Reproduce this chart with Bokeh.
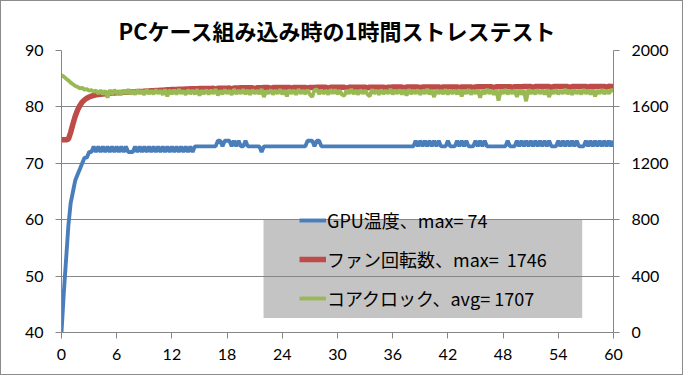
from bokeh.plotting import figure
from bokeh.models import Range1d, LinearAxis, Legend, LegendItem, BoxAnnotation, FixedTicker
from bokeh.embed import file_html
from bokeh.resources import INLINE

# ---------------- data ----------------
title_text = "PCケース組み込み時の1時間ストレステスト"
x_ticks = [0, 6, 12, 18, 24, 30, 36, 42, 48, 54, 60]
temp_ticks = [40, 50, 60, 70, 80, 90]
rpm_ticks = [0, 400, 800, 1200, 1600, 2000]
series_names = ["GPU温度、max= 74", "ファン回転数、max=  1746", "コアクロック、avg= 1707"]

# sampling every 0.25 minute
minutes = [i * 0.25 for i in range(241)]

gpu_temp = (
    [40, 47, 53, 59, 63, 65, 67, 68, 69, 70, 71, 71, 72, 72]
    + [73, 72, 73, 72, 73, 72, 73, 72, 73, 72, 73, 72, 73, 72, 73, 72,
       72, 72, 73, 72, 73, 72, 73, 72, 73, 72, 73, 72, 73, 72, 73, 72,
       73, 72, 73, 72, 73, 72, 73, 72, 73, 72, 73, 72]
    + [73, 73, 73, 73, 73, 73, 73, 73, 73, 73]
    + [74, 74, 73, 74, 74, 74, 73, 74, 73, 74, 73, 73, 74]
    + [73, 73, 73, 73, 73, 73, 72]
    + [73] * 19
    + [74, 74, 74, 73, 74, 74]
    + [73] * 41
    + [74, 73, 74, 73, 74, 73, 74, 73, 74, 73, 74, 73, 73, 73, 74, 73,
       73, 73, 74, 73, 74, 73, 74, 73, 73, 73, 74, 73, 74, 73, 74, 73,
       73, 73, 73, 73, 73, 73, 73, 73, 74, 73, 73, 73, 74, 73, 74, 73,
       74, 73, 74, 73, 74, 73, 74, 73, 74, 73, 74, 73, 73, 73, 74, 73,
       74, 73, 74, 73, 74, 73, 74, 73, 73, 73, 74, 73, 74, 73, 74, 73,
       74, 73, 74, 73, 74, 73, 74]
)

fan_rpm = [
    1367, 1367, 1367, 1372, 1420, 1480, 1535, 1578, 1610, 1634, 1650, 1662, 1670, 1676, 1681, 1685,
    1688, 1690, 1692, 1694, 1695, 1697, 1698, 1699, 1700, 1701, 1702, 1703, 1704, 1705, 1706, 1707,
    1708, 1709, 1710, 1710, 1711, 1712, 1713, 1714, 1715, 1716, 1717, 1718, 1719, 1720, 1721, 1722,
    1723, 1724, 1724, 1725, 1726, 1726, 1727, 1727, 1728, 1728, 1729, 1729, 1730, 1730, 1730, 1731,
    1731, 1731, 1732, 1726, 1732, 1732, 1733, 1733, 1733, 1734, 1728, 1734, 1734, 1734, 1735, 1735,
    1735, 1735, 1736, 1736, 1730, 1736, 1736, 1736, 1737, 1737, 1737, 1731, 1737, 1737, 1737, 1737,
    1737, 1738, 1738, 1738, 1732, 1738, 1738, 1738, 1738, 1738, 1738, 1733, 1738, 1738, 1738, 1739,
    1739, 1739, 1739, 1739, 1733, 1739, 1739, 1739, 1739, 1739, 1739, 1739, 1734, 1739, 1739, 1740,
    1740, 1740, 1740, 1740, 1740, 1734, 1740, 1740, 1740, 1740, 1740, 1740, 1740, 1735, 1740, 1740,
    1741, 1741, 1741, 1741, 1741, 1735, 1741, 1741, 1741, 1741, 1741, 1741, 1736, 1741, 1741, 1741,
    1741, 1742, 1742, 1742, 1742, 1736, 1742, 1742, 1742, 1742, 1742, 1742, 1742, 1736, 1742, 1742,
    1742, 1742, 1742, 1737, 1742, 1743, 1743, 1743, 1743, 1743, 1743, 1743, 1737, 1743, 1743, 1743,
    1743, 1743, 1743, 1743, 1738, 1743, 1743, 1743, 1743, 1744, 1744, 1744, 1744, 1738, 1744, 1744,
    1744, 1744, 1744, 1744, 1744, 1738, 1744, 1744, 1744, 1744, 1744, 1744, 1744, 1739, 1744, 1744,
    1744, 1744, 1745, 1745, 1745, 1739, 1745, 1745, 1745, 1745, 1745, 1745, 1745, 1740, 1746, 1745, 1745,
]

core_clock = [
    1825, 1815, 1800, 1788, 1772, 1760, 1748, 1742, 1732, 1736, 1722, 1726, 1714, 1720, 1708, 1716,
    1694, 1718, 1690, 1716, 1665, 1720, 1688, 1722, 1692, 1716, 1686, 1720, 1694, 1724, 1690, 1718,
    1688, 1722, 1694, 1718, 1686, 1726, 1692, 1716, 1690, 1722, 1694, 1718, 1686, 1724, 1675, 1720,
    1692, 1720, 1688, 1726, 1694, 1716, 1686, 1722, 1692, 1718, 1690, 1724, 1680, 1718, 1692, 1722,
    1688, 1720, 1694, 1726, 1682, 1716, 1690, 1722, 1694, 1718, 1686, 1726, 1692, 1718, 1694, 1724,
    1690, 1720, 1686, 1722, 1694, 1718, 1692, 1726, 1670, 1716, 1694, 1722, 1688, 1718, 1694, 1724,
    1690, 1718, 1675, 1722, 1694, 1720, 1686, 1726, 1694, 1718, 1692, 1722, 1688, 1670, 1720, 1724,
    1692, 1720, 1694, 1718, 1688, 1724, 1694, 1722, 1690, 1718, 1686, 1680, 1720, 1694, 1726, 1692,
    1718, 1688, 1722, 1694, 1718, 1690, 1675, 1724, 1694, 1720, 1686, 1722, 1692, 1718, 1694, 1726,
    1690, 1718, 1694, 1722, 1688, 1720, 1680, 1724, 1692, 1718, 1694, 1722, 1686, 1720, 1694, 1726,
    1690, 1718, 1670, 1722, 1694, 1718, 1692, 1724, 1688, 1720, 1694, 1718, 1690, 1722, 1675, 1720,
    1694, 1724, 1688, 1718, 1694, 1722, 1665, 1718, 1692, 1726, 1694, 1718, 1688, 1722, 1645, 1720,
    1694, 1724, 1690, 1718, 1694, 1722, 1670, 1720, 1688, 1718, 1640, 1724, 1694, 1718, 1690, 1722,
    1694, 1720, 1688, 1724, 1670, 1718, 1694, 1722, 1690, 1718, 1694, 1726, 1692, 1720, 1686, 1722,
    1694, 1718, 1690, 1724, 1694, 1720, 1688, 1722, 1675, 1718, 1694, 1724, 1692, 1718, 1694, 1722, 1712,
]

# ---------------- styling ----------------
GRAY = "#868686"
BLUE = "#4a7ebb"
RED = "#be4b48"
GREEN = "#98b954"
TICK_FONT = "Lato"
JP_FONT = "Noto Sans CJK JP"

p = figure(width=683, height=375, output_backend="svg", toolbar_location=None,
           x_range=Range1d(0, 60), y_range=Range1d(40, 90),
           min_border_left=60, min_border_right=71, min_border_top=49, min_border_bottom=44)
p.extra_y_ranges = {"rpm": Range1d(0, 2000)}
p.outline_line_color = None
p.background_fill_color = "white"
p.border_fill_color = "white"
p.styles = {"border": "1px solid #8c8c8c"}

p.title.text = title_text
p.title.align = "center"
p.title.text_font = JP_FONT
p.title.text_font_size = "22px"
p.title.text_font_style = "bold"
p.title.text_color = "black"

# legend background box (drawn under the grid)
box = BoxAnnotation(left=21.96, right=56.6, top=60.0, bottom=42.57,
                    fill_color="#c4c4c4", fill_alpha=1.0, line_color=None, level="image")
p.add_layout(box)

r_gpu = p.line(minutes, gpu_temp, line_color=BLUE, line_width=3.9, line_join="bevel")
r_fan = p.line(minutes, fan_rpm, line_color=RED, line_width=5.5, y_range_name="rpm")
r_clk = p.line(minutes, core_clock, line_color=GREEN, line_width=3.8, line_join="bevel",
               y_range_name="rpm")

p.xgrid.visible = False
p.ygrid.grid_line_color = GRAY
p.ygrid.grid_line_width = 1
p.ygrid.ticker = FixedTicker(ticks=temp_ticks)

p.xaxis.ticker = FixedTicker(ticks=x_ticks)
p.yaxis.ticker = FixedTicker(ticks=temp_ticks)

rax = LinearAxis(y_range_name="rpm", ticker=FixedTicker(ticks=rpm_ticks))
p.add_layout(rax, "right")

for ax in [p.xaxis[0], p.yaxis[0], rax]:
    ax.axis_line_color = GRAY
    ax.major_tick_line_color = GRAY
    ax.minor_tick_line_color = None
    ax.major_tick_in = 0
    ax.major_tick_out = 6
    ax.major_label_text_font = TICK_FONT
    ax.major_label_text_font_size = "16px"
    ax.major_label_text_color = "black"
    ax.major_label_standoff = 12
p.xaxis[0].major_label_standoff = 10

legend = Legend(items=[LegendItem(label=series_names[0], renderers=[r_gpu]),
                       LegendItem(label=series_names[1], renderers=[r_fan]),
                       LegendItem(label=series_names[2], renderers=[r_clk])],
                location=(238, 21), padding=0, margin=0, spacing=13,
                glyph_width=27, glyph_height=20, label_height=20, label_standoff=1,
                label_text_font=JP_FONT, label_text_font_size="18px", label_text_color="black",
                background_fill_alpha=0, border_line_alpha=0)
p.add_layout(legend)

open("out.html", "w").write(file_html(p, INLINE))
